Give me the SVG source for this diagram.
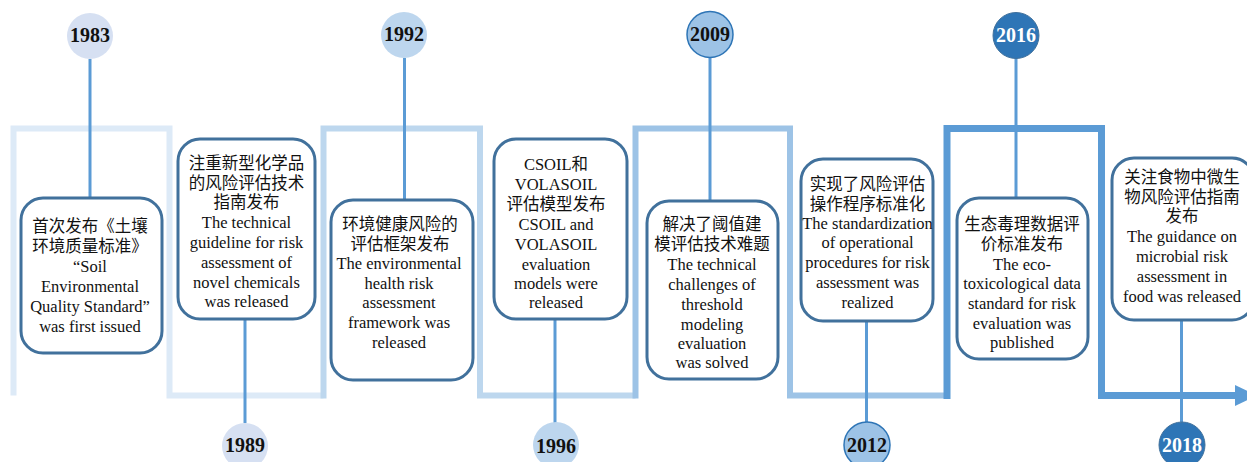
<svg xmlns="http://www.w3.org/2000/svg" width="1247" height="462" viewBox="0 0 1247 462">
<style>
.seg{fill:none;stroke-linejoin:miter;stroke-linecap:butt}
.con{stroke:#5b9bd5;stroke-width:3;fill:none}
.box{fill:#fff;stroke:#41719c;stroke-width:3}
.t{font-size:16.5px;fill:#111;text-anchor:middle}
.e{font-family:"Liberation Serif",serif}
.c{font-family:"Noto Sans CJK SC",sans-serif;font-size:16.5px}
.m{font-family:"Liberation Serif","Noto Sans CJK SC",serif}
.yr{font-family:"Liberation Serif",serif;font-size:20px;font-weight:bold;fill:#111;text-anchor:middle}
.yw{fill:#fff}
.c1{fill:#d6e0f2}
.c2{fill:#bdd6ee}
.c3{fill:#9dc3e6;stroke:#2e75b6;stroke-width:1.5}
.c4{fill:#2e75b6;stroke:#41719c;stroke-width:1}
</style>
<rect width="1247" height="462" fill="#fff"/>
<g id="timeline">
<polyline class="seg" stroke="#ddeaf7" stroke-width="6" points="13.5,395.5 13.5,128.5 169.5,128.5 169.5,395.5 323.5,395.5"/>
<polyline class="seg" stroke="#bdd7ee" stroke-width="6" points="323.5,398.5 323.5,128.5 480,128.5 480,395.5 635.5,395.5"/>
<polyline class="seg" stroke="#9dc3e6" stroke-width="6" points="635.5,398.5 635.5,128.5 790,128.5 790,395.5 947,395.5"/>
<polyline class="seg" stroke="#5b9bd5" stroke-width="7" points="947,399 947,128.5 1101.5,128.5 1101.5,395.5 1238,395.5"/>
<polygon fill="#5b9bd5" points="1235,385 1257,395.5 1235,406"/>
</g>
<g id="connectors">
<line class="con" x1="90" y1="59" x2="90" y2="198"/>
<line class="con" x1="245" y1="319" x2="245" y2="423"/>
<line class="con" x1="404.5" y1="58" x2="404.5" y2="200"/>
<line class="con" x1="555" y1="319" x2="555" y2="423"/>
<line class="con" x1="710" y1="57" x2="710" y2="201"/>
<line class="con" x1="866.5" y1="321" x2="866.5" y2="422"/>
<line class="con" x1="1016" y1="58" x2="1016" y2="198"/>
<line class="con" x1="1181.5" y1="320" x2="1181.5" y2="422"/>
</g>
<g id="y1983"><circle class="c1" cx="90" cy="36" r="23"/><text class="yr" x="90" y="42">1983</text></g>
<g id="y1992"><circle class="c2" cx="404" cy="35" r="23"/><text class="yr" x="404" y="41">1992</text></g>
<g id="y2009"><circle class="c3" cx="710" cy="34.5" r="23"/><text class="yr" x="710" y="41">2009</text></g>
<g id="y2016"><circle class="c4" cx="1016" cy="35.5" r="23"/><text class="yr yw" x="1016" y="42">2016</text></g>
<g id="y1989"><circle class="c1" cx="245" cy="446" r="23"/><text class="yr" x="245" y="452">1989</text></g>
<g id="y1996"><circle class="c2" cx="556" cy="445" r="23"/><text class="yr" x="556" y="453">1996</text></g>
<g id="y2012"><circle class="c3" cx="867" cy="445" r="23"/><text class="yr" x="867" y="452">2012</text></g>
<g id="y2018"><circle class="c4" cx="1182" cy="445" r="23"/><text class="yr yw" x="1182" y="452">2018</text></g>
<g id="box1983">
<rect class="box" x="21" y="198" width="141" height="155" rx="22"/>
<text class="t"><tspan class="c" x="90" y="232">首次发布《土壤</tspan><tspan class="c" x="90" y="252">环境质量标准》</tspan><tspan class="e" x="90" y="272">“Soil</tspan><tspan class="e" x="90" y="292">Environmental</tspan><tspan class="e" x="90" y="312">Quality Standard”</tspan><tspan class="e" x="90" y="332">was first issued</tspan></text>
</g>
<g id="box1989">
<rect class="box" x="178" y="139" width="137" height="180" rx="22"/>
<text class="t"><tspan class="c" x="246.5" y="169">注重新型化学品</tspan><tspan class="c" x="246.5" y="189">的风险评估技术</tspan><tspan class="c" x="246.5" y="208">指南发布</tspan><tspan class="e" x="246.5" y="228">The technical</tspan><tspan class="e" x="246.5" y="248">guideline for risk</tspan><tspan class="e" x="246.5" y="268">assessment of</tspan><tspan class="e" x="246.5" y="288">novel chemicals</tspan><tspan class="e" x="246.5" y="307">was released</tspan></text>
</g>
<g id="box1992">
<rect class="box" x="331" y="200" width="142" height="180" rx="22"/>
<text class="t"><tspan class="c" x="400" y="230">环境健康风险的</tspan><tspan class="c" x="400" y="250">评估框架发布</tspan><tspan class="e" x="399" y="269">The environmental</tspan><tspan class="e" x="399" y="289">health risk</tspan><tspan class="e" x="399" y="308">assessment</tspan><tspan class="e" x="399" y="328">framework was</tspan><tspan class="e" x="399" y="348">released</tspan></text>
</g>
<g id="box1996">
<rect class="box" x="494" y="139" width="133" height="180" rx="22"/>
<text class="t"><tspan class="m" x="556" y="170">CSOIL和</tspan><tspan class="e" x="556" y="190">VOLASOIL</tspan><tspan class="c" x="556" y="210">评估模型发布</tspan><tspan class="e" x="556" y="230">CSOIL and</tspan><tspan class="e" x="556" y="250">VOLASOIL</tspan><tspan class="e" x="556" y="270">evaluation</tspan><tspan class="e" x="556" y="289">models were</tspan><tspan class="e" x="556" y="308">released</tspan></text>
</g>
<g id="box2009">
<rect class="box" x="647" y="201" width="131" height="178" rx="22"/>
<text class="t"><tspan class="c" x="712" y="230">解决了阈值建</tspan><tspan class="c" x="712" y="250">模评估技术难题</tspan><tspan class="e" x="712" y="270">The technical</tspan><tspan class="e" x="712" y="290">challenges of</tspan><tspan class="e" x="712" y="310">threshold</tspan><tspan class="e" x="712" y="330">modeling</tspan><tspan class="e" x="712" y="349">evaluation</tspan><tspan class="e" x="712" y="368">was solved</tspan></text>
</g>
<g id="box2012">
<rect class="box" x="801" y="159" width="132" height="162" rx="22"/>
<text class="t"><tspan class="c" x="867.5" y="190">实现了风险评估</tspan><tspan class="c" x="867.5" y="210">操作程序标准化</tspan><tspan class="e" x="867.5" y="229">The standardization</tspan><tspan class="e" x="867.5" y="248">of operational</tspan><tspan class="e" x="867.5" y="268">procedures for risk</tspan><tspan class="e" x="867.5" y="288">assessment was</tspan><tspan class="e" x="867.5" y="308">realized</tspan></text>
</g>
<g id="box2016">
<rect class="box" x="957" y="198" width="131" height="161" rx="22"/>
<text class="t"><tspan class="c" x="1022" y="230">生态毒理数据评</tspan><tspan class="c" x="1022" y="250">价标准发布</tspan><tspan class="e" x="1022" y="270">The eco-</tspan><tspan class="e" x="1022" y="289">toxicological data</tspan><tspan class="e" x="1022" y="309">standard for risk</tspan><tspan class="e" x="1022" y="329">evaluation was</tspan><tspan class="e" x="1022" y="348">published</tspan></text>
</g>
<g id="box2018">
<rect class="box" x="1112" y="158" width="142" height="162" rx="22"/>
<text class="t"><tspan class="c" x="1182" y="183">关注食物中微生</tspan><tspan class="c" x="1182" y="203">物风险评估指南</tspan><tspan class="c" x="1182" y="222">发布</tspan><tspan class="e" x="1182" y="242">The guidance on</tspan><tspan class="e" x="1182" y="262">microbial risk</tspan><tspan class="e" x="1182" y="282">assessment in</tspan><tspan class="e" x="1182" y="302">food was released</tspan></text>
</g>
</svg>
